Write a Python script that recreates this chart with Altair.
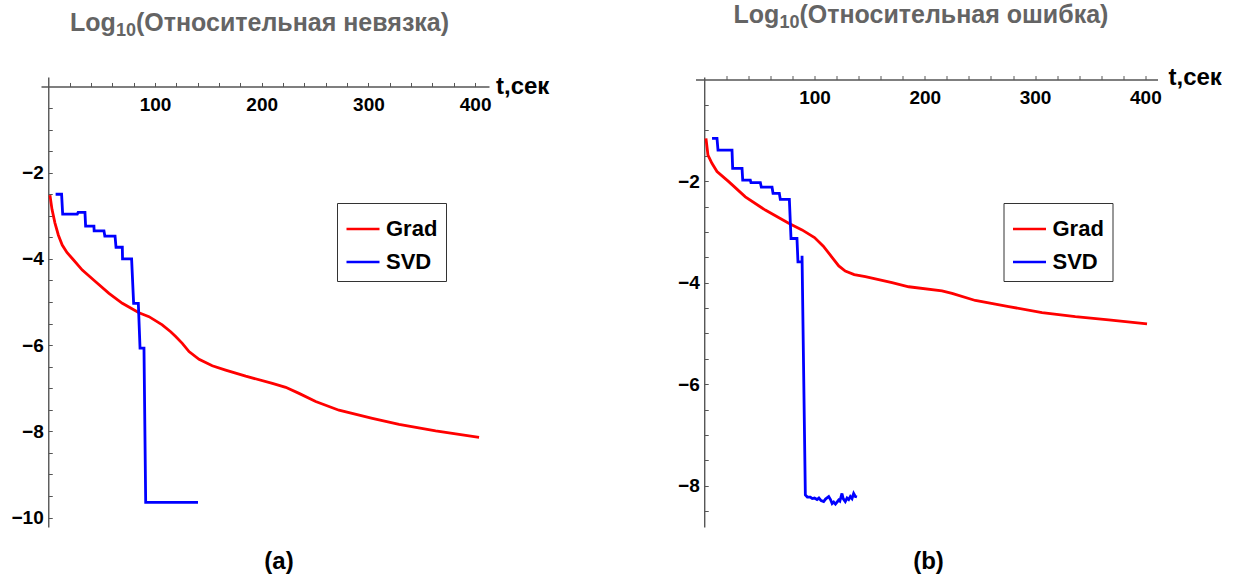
import altair as alt
import pandas as pd

FONT = "Liberation Sans"

series_names = ["Grad", "SVD"]
series_colors = ["#ff0000", "#0000ff"]

# (a) log10 of the relative residual vs. time, s
grad_a_t = [1.6, 3.5, 6.3, 9.5, 13.1, 17.5, 22.5, 31.9, 44.4, 56.9, 69.4, 85, 94.4, 106.8,
            114.7, 119.4, 125.6, 131.9, 141.3, 153.7, 166.2, 185, 210, 222.5, 235, 250.6,
            272.4, 303.7, 328.7, 363, 403.7]
grad_a_y = [-2.52, -2.85, -3.17, -3.45, -3.68, -3.85, -3.99, -4.26, -4.53, -4.80, -5.03,
            -5.25, -5.34, -5.53, -5.69, -5.80, -5.96, -6.15, -6.33, -6.48, -6.58, -6.72,
            -6.89, -6.98, -7.12, -7.31, -7.51, -7.70, -7.84, -7.99, -8.14]
svd_a_t = [6.9, 12.5, 13.5, 27.2, 28, 34.4, 35, 42.8, 43, 52.2, 53, 62.6, 63.5, 69.4,
           69.6, 78.1, 80, 84.4, 86, 89.7, 91.3, 140.3]
svd_a_y = [-2.50, -2.50, -2.96, -2.96, -2.92, -2.92, -3.24, -3.24, -3.35, -3.35, -3.47,
           -3.47, -3.73, -3.73, -4.0, -4.0, -5.03, -5.03, -6.07, -6.07, -9.65, -9.65]

# (b) log10 of the relative error vs. time, s
grad_b_t = [1.6, 3.4, 7, 11.6, 22.2, 37.3, 55.4, 76.6, 88.7, 100, 108, 115.9, 122, 127.9,
            136, 146.1, 170.3, 185.4, 215.6, 224.7, 245.8, 276.1, 306.3, 336.5, 366.7,
            401.5]
grad_b_y = [-1.16, -1.49, -1.65, -1.81, -2.01, -2.31, -2.57, -2.83, -2.96, -3.11, -3.28,
            -3.50, -3.67, -3.77, -3.84, -3.88, -4.00, -4.08, -4.16, -4.21, -4.35, -4.47,
            -4.59, -4.67, -4.73, -4.81]
svd_b_t = [7.1, 11.6, 12.5, 25.2, 25.8, 34.3, 34.9, 41.8, 42.4, 50.9, 51.8, 61.5, 62.4,
           68.1, 69.0, 77.2, 78.7, 84.1, 85.0, 88.7, 88.7, 91.7, 93.5, 96.2, 98, 100,
           102.3, 104, 106, 108.3, 110, 112.9, 114.5, 116, 117.4, 119, 121.9, 123, 124.9,
           126, 127.9, 129.5, 131, 132.5, 134, 135.5, 137, 138.5]
svd_b_y = [-1.16, -1.16, -1.39, -1.39, -1.75, -1.75, -1.98, -1.98, -2.03, -2.03, -2.12,
           -2.12, -2.24, -2.24, -2.36, -2.36, -3.13, -3.13, -3.59, -3.59, -3.47, -8.18,
           -8.22, -8.22, -8.25, -8.24, -8.27, -8.24, -8.29, -8.31, -8.26, -8.21, -8.27,
           -8.35, -8.32, -8.36, -8.28, -8.30, -8.15, -8.25, -8.31, -8.24, -8.27, -8.21,
           -8.25, -8.15, -8.21, -8.22]

x_tick_values = list(range(20, 420, 20))


def frame(t_grad, y_grad, t_svd, y_svd):
    rows = []
    for name, ts, ys in ((series_names[0], t_grad, y_grad), (series_names[1], t_svd, y_svd)):
        for i, (t, v) in enumerate(zip(ts, ys)):
            rows.append({"t": t, "v": v, "series": name, "k": i})
    return pd.DataFrame(rows)


def label(text, x, y, size, color="black", align="left", baseline="alphabetic"):
    return alt.Chart(pd.DataFrame({"s": [text]})).mark_text(
        align=align, baseline=baseline, font=FONT, fontSize=size,
        fontWeight="bold", color=color,
    ).encode(x=alt.value(x), y=alt.value(y), text="s:N")


def panel(df, x_dom, y_dom, w, h, y_ticks, title_rest, tag, tag_x, legend_xy, title_xy,
          tlabel_xy):
    x0 = -x_dom[0] / (x_dom[1] - x_dom[0]) * w
    y0 = y_dom[1] / (y_dom[1] - y_dom[0]) * h
    axis_common = dict(
        labelFont=FONT, labelFontSize=19, labelFontWeight="bold", labelColor="black",
        domainColor="#555555", domainWidth=1.4, tickColor="#555555", tickWidth=1,
        tickSize=4, grid=False, title=None, labelOverlap=False, labelFlush=False,
        labelBound=False,
    )
    # every 20 s a tick, labels on the hundreds
    x_axis = alt.Axis(
        orient="top", offset=-y0, values=x_tick_values,
        labelExpr="datum.value % 100 === 0 ? '' + datum.value : ''",
        labelBaseline="top", labelPadding=-13, **axis_common,
    )
    # every 0.5 a tick, labels on the even integers
    y_axis = alt.Axis(
        orient="right", offset=x0 - w, values=y_ticks,
        labelExpr="datum.value % 2 === 0 ? '\u2212' + abs(datum.value) : ''",
        labelAlign="right", labelPadding=-9, **axis_common,
    )
    lines = alt.Chart(df).mark_line(strokeWidth=2.8).encode(
        x=alt.X("t:Q", scale=alt.Scale(domain=x_dom, nice=False, zero=False), axis=x_axis),
        y=alt.Y("v:Q", scale=alt.Scale(domain=y_dom, nice=False, zero=False), axis=y_axis),
        color=alt.Color(
            "series:N",
            scale=alt.Scale(domain=series_names, range=series_colors),
            legend=alt.Legend(
                orient="none", legendX=legend_xy[0], legendY=legend_xy[1], title=None,
                symbolType="stroke", symbolSize=1089, symbolStrokeWidth=2.5,
                labelFont=FONT, labelFontSize=22, labelFontWeight="bold",
                labelColor="black", labelOffset=5, labelExpr="datum.label + '  '",
                padding=8, rowPadding=4, strokeColor="#333333", fillColor="white",
            ),
        ),
        order=alt.Order("k:Q"),
    )
    tx, ty = title_xy
    parts = [
        lines,
        label("Log", tx, ty, 25, color="#646464"),
        label("10", tx + 46, ty + 5, 18, color="#646464"),
        label(title_rest, tx + 66, ty, 25, color="#646464"),
        label("t,сек", tlabel_xy[0], tlabel_xy[1], 24, baseline="middle"),
        label(tag, tag_x, h + 42, 24, align="center"),
    ]
    return alt.layer(*parts).properties(width=w, height=h)


panel_a = panel(
    frame(grad_a_t, grad_a_y, svd_a_t, svd_a_y),
    x_dom=[-6.8, 413], y_dom=[-10.22, 0.22], w=448, h=450,
    y_ticks=[-10 + 0.5 * i for i in range(20)],
    title_rest="(Относительная невязка)", tag="(a)", tag_x=238,
    legend_xy=(296, 126), title_xy=(29, -46), tlabel_xy=(455, 9.5),
)
panel_b = panel(
    frame(grad_b_t, grad_b_y, svd_b_t, svd_b_y),
    x_dom=[-7.9, 411], y_dom=[-8.81, 0.05], w=462, h=450,
    y_ticks=[-8.5 + 0.5 * i for i in range(17)],
    title_rest="(Относительная ошибка)", tag="(b)", tag_x=233,
    legend_xy=(308, 126), title_xy=(38, -54), tlabel_xy=(473, 1),
)

chart = (
    alt.hconcat(panel_a, panel_b, spacing=206.5)
    .resolve_scale(x="independent", y="independent", color="independent")
    .properties(bounds="flush", padding={"left": 11, "top": 3, "right": 0, "bottom": 0})
    .configure_view(stroke=None)
)

chart.save("out.html", embed_options={"renderer": "svg", "actions": False})
